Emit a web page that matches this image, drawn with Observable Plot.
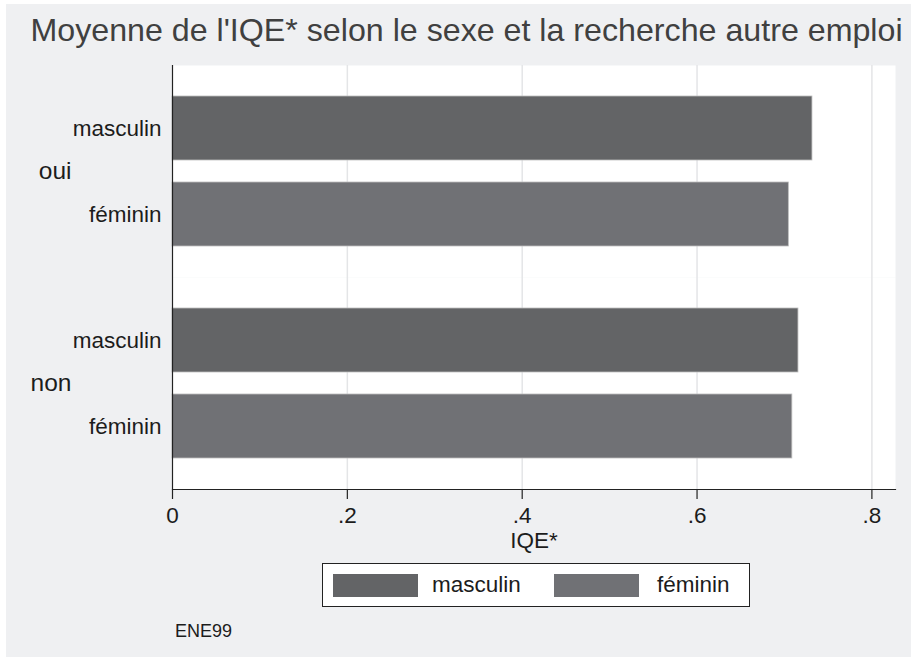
<!DOCTYPE html>
<html>
<head>
<meta charset="utf-8">
<script src="https://cdn.jsdelivr.net/npm/d3@7"></script>
<script src="https://cdn.jsdelivr.net/npm/@observablehq/plot@0.6"></script>
<style>
  html, body { margin: 0; padding: 0; background: #ffffff; }
  #wrap { position: relative; width: 911px; height: 657px; overflow: hidden; font-family: "Liberation Sans", Arial, sans-serif; }
  #bg { position: absolute; left: 6px; top: 4px; right: 0; bottom: 0; background: #eff0f2; }
  #title { position: absolute; left: 0; width: 933px; top: 12px; text-align: center; font-size: 32.2px; color: #404040; white-space: nowrap; }
  #chart { position: absolute; left: 0; top: 0; }
  #legend { position: absolute; left: 322px; top: 563px; width: 426px; height: 42px; background: #ffffff; border: 1px solid #222; }
  .sw { position: absolute; top: 10px; width: 85px; height: 23px; }
  .lt { position: absolute; top: 7px; font-size: 22.5px; color: #1c1c1c; line-height: 28px; }
  #caption { position: absolute; left: 175px; top: 621px; font-size: 18px; color: #1c1c1c; }
</style>
</head>
<body>
<div id="wrap">
  <div id="bg"></div>
  <div id="title"></div>
  <div id="chart"></div>
  <div id="legend"></div>
  <div id="caption"></div>
</div>
<script>
const titleText = "Moyenne de l'IQE* selon le sexe et la recherche autre emploi";
const captionText = "ENE99";
const xLabel = "IQE*";
const groups = ["oui", "non"];
const sexes = ["masculin", "féminin"];
const valuesOui = [0.732, 0.705];
const valuesNon = [0.716, 0.709];
const xTicks = [0, 0.2, 0.4, 0.6, 0.8];
const xTickLabels = ["0", ".2", ".4", ".6", ".8"];
const colors = ["#636466", "#707175"];

const data = groups.flatMap((g, i) =>
  sexes.map((s, j) => ({ groupe: g, sexe: s, iqe: (i === 0 ? valuesOui : valuesNon)[j] }))
);

document.getElementById("title").textContent = titleText;
document.getElementById("caption").textContent = captionText;

const plot = Plot.plot({
  width: 911,
  height: 560,
  marginTop: 65,
  marginLeft: 172,
  marginRight: 16,
  marginBottom: 71,
  style: { background: "transparent", fontFamily: "'Liberation Sans', Arial, sans-serif", color: "#1c1c1c" },
  x: { domain: [0, 0.827] },
  y: { domain: sexes, paddingInner: 0.256, paddingOuter: 0.36 },
  fy: { domain: groups, padding: 0 },
  color: { domain: sexes, range: colors },
  marks: [
    Plot.frame({ fill: "white", stroke: "none" }),
    Plot.gridX(xTicks.slice(1), { stroke: "#e4e5e7", strokeOpacity: 1, strokeWidth: 1.5 }),
    Plot.barX(data, { x: "iqe", y: "sexe", fy: "groupe", fill: "sexe", stroke: "#bdbdbd", strokeWidth: 0.8 }),
    Plot.ruleX([0], { stroke: "#222", strokeWidth: 1.2 }),
    Plot.axisY({ tickSize: 0, tickPadding: 11, fontSize: 22.5, label: null }),
    Plot.axisFy({ anchor: "left", tickSize: 0, tickPadding: 101, fontSize: 24.5, label: null }),
    Plot.axisX({
      ticks: xTicks,
      tickFormat: (d) => xTickLabels[xTicks.indexOf(d)],
      tickSize: 10,
      tickPadding: 8,
      fontSize: 22.5,
      stroke: "#222",
      strokeWidth: 1.2,
      label: xLabel,
      labelAnchor: "center",
      labelArrow: "none",
      labelOffset: 58
    }),
    Plot.frame({ anchor: "bottom", facetAnchor: "bottom", stroke: "#222", strokeWidth: 1.2 })
  ]
});
document.getElementById("chart").appendChild(plot);

// legend
const legend = document.getElementById("legend");
const legendPos = [{ sw: 10, tx: 109 }, { sw: 231, tx: 334 }];
sexes.forEach((s, i) => {
  const sw = document.createElement("div");
  sw.className = "sw";
  sw.style.left = legendPos[i].sw + "px";
  sw.style.background = colors[i];
  legend.appendChild(sw);
  const t = document.createElement("div");
  t.className = "lt";
  t.style.left = legendPos[i].tx + "px";
  t.textContent = s;
  legend.appendChild(t);
});
</script>
</body>
</html>
